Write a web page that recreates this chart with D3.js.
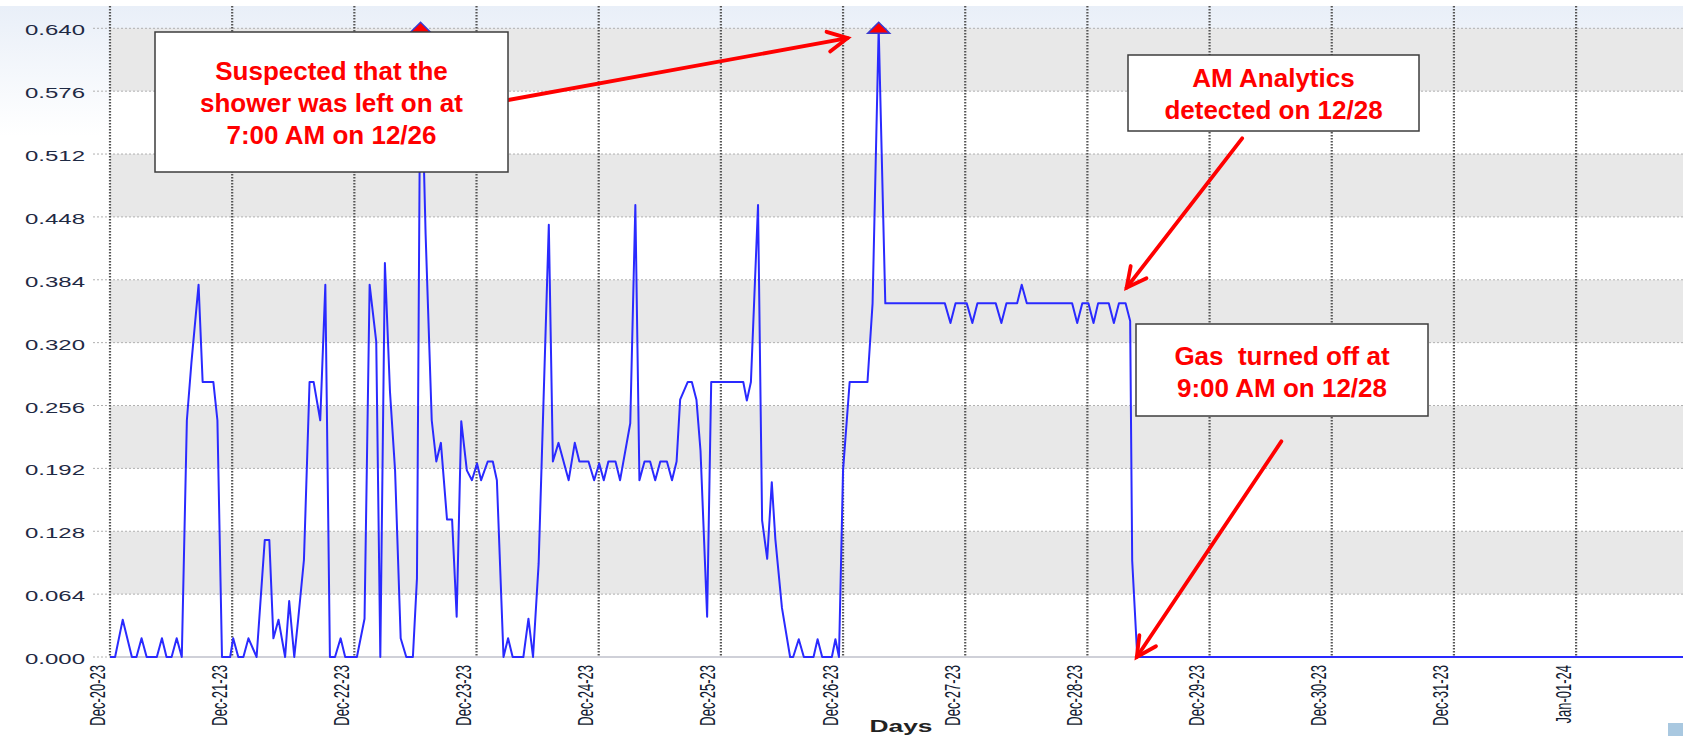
<!DOCTYPE html>
<html>
<head>
<meta charset="utf-8">
<script src="https://cdn.jsdelivr.net/npm/d3@7/dist/d3.min.js"></script>
<style>
  body { margin: 0; background: #fff; }
  text { font-family: "Liberation Sans", Arial, sans-serif; }
</style>
</head>
<body>
<svg id="chart" width="1683" height="736"></svg>
<script>
// Hourly gas use, Dec-20-23 .. Jan-01-24
// hours = hours since Dec-20-23 00:00 (vertices)
const hours = [0,1,2.5,4.3,5.2,6.2,7.2,9.2,10.2,11.1,12.1,13.1,14.1,15.1,16,17.4,18.2,20.3,21.1,22,
  23.6,24.2,25.2,26.2,27.2,28.8,30.4,31.3,32.1,33.1,34.4,35.2,36.2,37,38.1,39.2,40,41.3,42.3,43.2,
  44.2,45.3,46.2,48.5,50,51,52.3,53.1,54,55,56,57.1,58.2,59.5,60.3,61,62,63.2,64.1,65,
  66.2,67.2,68.1,69,70.1,71.1,72.1,72.9,74.2,75.2,76,77.3,78.2,79.1,81.2,82.2,83.1,84.2,86.2,87,
  88.1,90.1,91.3,92.2,94,95.1,96.1,97,97.9,99.3,100.2,102.2,103.2,104,105,106.1,107.1,108.1,109.4,110.4,
  111.3,112,113.5,114.3,115.2,116,117.3,118.1,124.4,125.1,125.9,127.3,128.1,129.1,130,130.7,132,133.6,134.2,135.3,
  136.3,138.2,139,139.9,141.8,142.5,143.2,144,145.3,148.8,149.8,151,152.3,164,165.1,166.1,168.3,169.4,170.4,174,
  175.1,176.1,178.2,179.1,180.1,189,190,191,192.2,193.2,194.1,196.2,197.2,198.2,199.5,200.4,200.8,201.8,309]
const gasUse = [0,0,0.038,0,0,0.019,0,0,0.019,0,0,0.019,0,0.241,0.30,0.379,0.28,0.28,0.241,0,
  0,0.019,0,0,0.019,0,0.119,0.119,0.019,0.038,0,0.057,0,0.04,0.099,0.28,0.28,0.241,0.379,0,
  0,0.019,0,0,0.039,0.379,0.321,0,0.401,0.27,0.19,0.019,0,0,0.08,0.64,0.43,0.241,0.199,0.218,
  0.14,0.14,0.041,0.24,0.19,0.18,0.197,0.18,0.199,0.199,0.18,0,0.019,0,0,0.039,0,0.095,0.44,0.199,
  0.218,0.18,0.218,0.199,0.199,0.18,0.197,0.18,0.199,0.199,0.18,0.238,0.46,0.18,0.199,0.199,0.18,0.199,0.199,0.18,
  0.199,0.262,0.28,0.28,0.262,0.21,0.041,0.28,0.28,0.261,0.28,0.46,0.139,0.1,0.178,0.12,0.05,0,0,0.018,
  0,0,0.018,0,0,0.018,0,0.19,0.28,0.28,0.36,0.64,0.36,0.36,0.34,0.36,0.36,0.34,0.36,0.36,
  0.34,0.36,0.36,0.379,0.36,0.36,0.34,0.36,0.36,0.34,0.36,0.36,0.34,0.36,0.36,0.342,0.098,0,0]

const dayLabels = ["Dec-20-23","Dec-21-23","Dec-22-23","Dec-23-23","Dec-24-23","Dec-25-23","Dec-26-23",
  "Dec-27-23","Dec-28-23","Dec-29-23","Dec-30-23","Dec-31-23","Jan-01-24"]
const yTicks = [0, 0.064, 0.128, 0.192, 0.256, 0.320, 0.384, 0.448, 0.512, 0.576, 0.640]

// callouts: tail/tip in data space (hours, value)
const callouts = [
  {lines: ["Suspected that the", "shower was left on at", "7:00 AM on 12/26"],
   box: [155, 32, 353, 140], base: 80, tail: [78.2, 0.567], tip: [144.9, 0.630]},
  {lines: ["AM Analytics", "detected on 12/28"],
   box: [1128, 55, 291, 76], base: 87, tail: [222.4, 0.528], tip: [199.7, 0.376]},
  {lines: ["Gas  turned off at", "9:00 AM on 12/28"],
   box: [1136, 324, 292, 92], base: 365, tail: [230.1, 0.2195], tip: [201.7, 0.0]}
]

const W = 1683, H = 736
const pLeft = 110, pRight = 1683, pTop = 6, pBottom = 657

const x = d3.scaleLinear().domain([0, 309]).range([pLeft, pRight])
const y = d3.scaleLinear().domain([0, 0.6627]).range([pBottom, pTop])

const svg = d3.select("#chart")

// faint blue wash along the top
const grad = svg.append("defs").append("linearGradient")
    .attr("id", "wash").attr("x1", 0).attr("y1", 0).attr("x2", 0).attr("y2", 1)
grad.append("stop").attr("offset", "0%").attr("stop-color", "#e9eff8")
grad.append("stop").attr("offset", "100%").attr("stop-color", "#ffffff")
svg.append("rect").attr("x", 0).attr("y", pTop).attr("width", W).attr("height", 130)
    .style("fill", "url(#wash)")

// alternating bands
const bands = d3.range(yTicks.length - 1).map(i => ({lo: yTicks[i], hi: yTicks[i+1], odd: i % 2 == 1}))
svg.append("g").selectAll("rect")
    .data(bands).enter()
    .append("rect")
    .attr("x", pLeft)
    .attr("width", pRight - pLeft)
    .attr("y", d => y(d.hi))
    .attr("height", d => y(d.lo) - y(d.hi))
    .style("fill", d => d.odd ? "#e8e8e8" : "#ffffff")

// horizontal grid + tick marks
svg.append("g").selectAll("line")
    .data(yTicks).enter()
    .append("line")
    .attr("x1", 93).attr("x2", pRight)
    .attr("y1", d => y(d)).attr("y2", d => y(d))
    .style("stroke", "#b0b0b0")
    .style("stroke-width", 1)
    .style("stroke-dasharray", "2,2")

// baseline
svg.append("line")
    .attr("x1", pLeft).attr("x2", pRight).attr("y1", pBottom).attr("y2", pBottom)
    .style("stroke", "#cfd0d8").style("stroke-width", 2)

// vertical day lines
const dayTicks = dayLabels.map((d, i) => i * 24)
svg.append("g").selectAll("line")
    .data(dayTicks).enter()
    .append("line")
    .attr("x1", d => x(d)).attr("x2", d => x(d))
    .attr("y1", pTop).attr("y2", pBottom)
    .style("stroke", "#555")
    .style("stroke-width", 2.2)
    .style("stroke-dasharray", "1.5,1.5")

// y axis labels
const yAxis = svg.append("g")
    .attr("transform", "translate(" + (pLeft - 25) + ",0)")
    .call(d3.axisLeft(y).tickValues(yTicks).tickFormat(d3.format(".3f")).tickSize(0).tickPadding(0))
yAxis.select(".domain").remove()
yAxis.selectAll("text")
    .attr("dy", null)
    .attr("y", 6.5)
    .attr("textLength", 60)
    .attr("lengthAdjust", "spacingAndGlyphs")
    .style("font-size", "14px")
    .style("fill", "#1f2a44")

// x axis labels (rotated, stretched like the source)
const xAxis = svg.append("g")
    .attr("transform", "translate(0," + pBottom + ")")
    .call(d3.axisBottom(x).tickValues(dayTicks).tickFormat((d, i) => dayLabels[i]).tickSize(0))
xAxis.select(".domain").remove()
xAxis.selectAll("text")
    .attr("y", 0).attr("dy", null)
    .attr("transform", "translate(-6,8) scale(1.75,1) rotate(-90)")
    .style("text-anchor", "end")
    .style("font-size", "13px")
    .style("fill", "#111a30")

svg.append("text")
    .attr("x", 901).attr("y", 732)
    .attr("textLength", 63).attr("lengthAdjust", "spacingAndGlyphs")
    .style("text-anchor", "middle")
    .style("font-size", "17px")
    .style("font-weight", "bold")
    .style("fill", "#222")
    .text("Days")

// the series
const pts = hours.map((h, i) => ({h: h, v: gasUse[i]}))
svg.append("path")
    .datum(pts)
    .attr("d", d3.line().x(d => x(d.h)).y(d => y(d.v)))
    .style("fill", "none")
    .style("stroke", "#2a2aff")
    .style("stroke-width", 2)
    .style("stroke-linejoin", "round")

// max markers
const vmax = d3.max(gasUse)
svg.append("g").selectAll("path")
    .data(pts.filter(d => d.v == vmax)).enter()
    .append("path")
    .attr("d", "M0,-6L11,5L-11,5Z")
    .attr("transform", d => "translate(" + x(d.h) + "," + y(d.v) + ")")
    .style("fill", "#ff0000")
    .style("stroke", "#3a3ad0")
    .style("stroke-width", 1.5)

// callout arrows then boxes
const red = "#ff0000"
callouts.forEach(c => {
    const t0 = [x(c.tail[0]), y(c.tail[1])], t1 = [x(c.tip[0]), y(c.tip[1])]
    const ang = Math.atan2(t0[1] - t1[1], t0[0] - t1[0])
    const arm = 22, spread = 27 * Math.PI / 180
    const g = svg.append("g").style("stroke", red).style("stroke-width", 3.8)
        .style("fill", "none").style("stroke-linecap", "round")
    g.append("line").attr("x1", t0[0]).attr("y1", t0[1]).attr("x2", t1[0]).attr("y2", t1[1])
    g.append("path").attr("d", "M" + (t1[0] + arm*Math.cos(ang+spread)) + "," + (t1[1] + arm*Math.sin(ang+spread))
        + "L" + t1[0] + "," + t1[1]
        + "L" + (t1[0] + arm*Math.cos(ang-spread)) + "," + (t1[1] + arm*Math.sin(ang-spread)))
})
callouts.forEach(c => {
    svg.append("rect")
        .attr("x", c.box[0]).attr("y", c.box[1]).attr("width", c.box[2]).attr("height", c.box[3])
        .style("fill", "#fff").style("stroke", "#3c3c3c").style("stroke-width", 1.5)
    svg.append("g").selectAll("text")
        .data(c.lines).enter()
        .append("text")
        .attr("x", c.box[0] + c.box[2]/2)
        .attr("y", (d, i) => c.base + i*32)
        .style("text-anchor", "middle")
        .style("white-space", "pre")
        .style("font-size", "26px")
        .style("font-weight", "bold")
        .style("fill", red)
        .text(d => d)
})

// little scroll nub bottom right
svg.append("rect").attr("x", 1668).attr("y", 723).attr("width", 15).attr("height", 13)
    .style("fill", "#a9c8e0")
</script>
</body>
</html>
